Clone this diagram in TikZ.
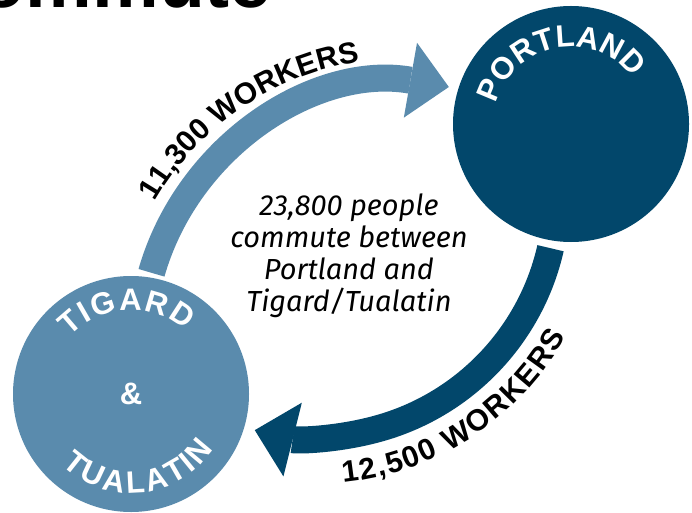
\documentclass[tikz,border=0pt]{standalone}
\usepackage{fontspec}
\setmainfont{Fira Sans}
\newfontfamily\negrito{Liberation Sans}
\usetikzlibrary{arrows.meta,decorations.text}

\definecolor{azulclaro}{HTML}{5A8BAD}
\definecolor{azulescuro}{HTML}{02476B}

\tikzset{
    cidade/.style={circle, minimum size=236pt, inner sep=0pt, outer sep=0pt},
    fluxo/.style={line width=27pt, -{Triangle[length=39pt, width=76pt, line width=0pt]}},
}

\begin{document}
\begin{tikzpicture}[x=1pt, y=1pt]
    \useasboundingbox (0,0) rectangle (692,512);
    \fill[white] (0,0) rectangle (692,512);
    \clip (0,0) rectangle (692,512);

    % Título (cortado no topo)
    \node[anchor=base west, inner sep=0pt, font=\negrito\bfseries\fontsize{75}{75}\selectfont] (titulo) at (-62,504) {commute};

    % Círculos
    \node[cidade, fill=azulescuro] (portland) at (571,388) {};
    \node[cidade, fill=azulclaro] (tigard) at (131,118) {};
    \node[white, font=\negrito\bfseries\fontsize{31}{31}\selectfont] (e) at (tigard.center) {\&};

    % Centros dos arcos
    \coordinate (c1) at (403.4,166.8);
    \coordinate (c2) at (313.5,317.6);

    % Setas
    \draw[fluxo, azulclaro] ([yshift=5pt]tigard.80) arc[start angle=164, end angle=80, radius=262pt];
    \draw[fluxo, azulescuro] ([yshift=-8pt]portland.260) arc[start angle=-12.8, end angle=-104, radius=243pt];

    % Nomes nos círculos
    \path[decorate, decoration={text along path, text align=fit to path, text color=white,
        text={|\negrito\bfseries\fontsize{31}{31}\selectfont|PORTLAND}}]
        ([shift={(165:77pt)}]portland.center) arc[start angle=165, end angle=37, radius=77pt];
    \path[decorate, decoration={text along path, text align=fit to path, text color=white,
        text={|\negrito\bfseries\fontsize{31}{31}\selectfont|TIGARD}}]
        ([shift={(137:84pt)}]tigard.center) arc[start angle=137, end angle=49.5, radius=84pt];
    \path[decorate, decoration={text along path, text align=fit to path, text color=white,
        text={|\negrito\bfseries\fontsize{31}{31}\selectfont|TUALATIN}}]
        ([shift={(226:99pt)}]tigard.center) arc[start angle=226, end angle=326.5, radius=99pt];

    % Número de trabalhadores
    \path[decorate, decoration={text along path, text align=fit to path,
        text={|\negrito\bfseries\fontsize{30}{30}\selectfont|11,300 WORKERS}}]
        ([shift={(150:287pt)}]c1) arc[start angle=150, end angle=100, radius=287pt];
    \path[decorate, decoration={text along path, text align=fit to path,
        text={|\negrito\bfseries\fontsize{30}{30}\selectfont|12,500 WORKERS}}]
        ([shift={(-84:290pt)}]c2) arc[start angle=-84, end angle=-29.4, radius=290pt];

    % Texto central
    \node[font=\itshape\fontsize{29}{32}\selectfont, align=center] (texto) at (349,256)
        {23,800 people\\commute between\\Portland and\\Tigard/Tualatin};
\end{tikzpicture}
\end{document}
